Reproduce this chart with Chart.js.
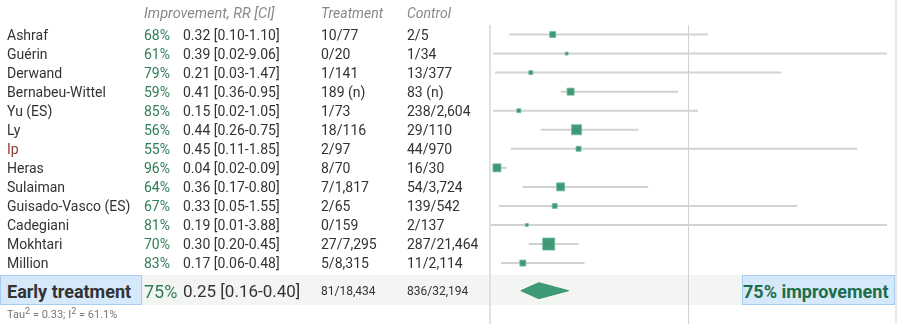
<!DOCTYPE html>
<html>
<head>
<meta charset="utf-8">
<script src="https://cdn.jsdelivr.net/npm/chart.js@4"></script>
<style>
  body { margin: 0; background: #fff; font-family: Roboto, "Noto Sans", sans-serif; }
  #wrap { position: relative; width: 898px; height: 324px; overflow: hidden; }
  #band { position: absolute; left: 0; top: 275px; width: 895px; height: 30px; background: #f2f5f2; z-index: 0; }
  #plot { position: absolute; left: 0; top: 0; z-index: 1; }
  .t { position: absolute; white-space: nowrap; transform: translateY(-50%); z-index: 2; color: #333; font-size: 14px; line-height: 17px; }
  .hdr { color: #888; font-style: italic; }
  .pct { color: #2f7d57; }
  .box { position: absolute; z-index: 2; background: #d6e9fb; border: 1px solid #a9cdee; box-sizing: border-box; }
</style>
</head>
<body>
<div id="wrap">
  <div id="band"></div>
  <canvas id="plot" width="898" height="324"></canvas>
</div>
<script>
const studies = ['Ashraf', 'Guérin', 'Derwand', 'Bernabeu-Wittel', 'Yu (ES)', 'Ly', 'Ip', 'Heras', 'Sulaiman', 'Guisado-Vasco (ES)', 'Cadegiani', 'Mokhtari', 'Million'];
const improvement = [68, 61, 79, 59, 85, 56, 55, 96, 64, 67, 81, 70, 83];
const rr = [0.32, 0.39, 0.21, 0.41, 0.15, 0.44, 0.45, 0.04, 0.36, 0.33, 0.19, 0.30, 0.17];
const ciLow = [0.10, 0.02, 0.03, 0.36, 0.02, 0.26, 0.11, 0.02, 0.17, 0.05, 0.01, 0.20, 0.06];
const ciHigh = [1.10, 9.06, 1.47, 0.95, 1.05, 0.75, 1.85, 0.09, 0.80, 1.55, 3.88, 0.45, 0.48];
const treatment = ['10/77', '0/20', '1/141', '189 (n)', '1/73', '18/116', '2/97', '8/70', '7/1,817', '2/65', '0/159', '27/7,295', '5/8,315'];
const control = ['2/5', '1/34', '13/377', '83 (n)', '238/2,604', '29/110', '44/970', '16/30', '54/3,724', '139/542', '2/137', '287/21,464', '11/2,114'];
// relative study weights (%), estimated from the square sizes
const weights = [6.1, 1.5, 2.7, 8.3, 2.7, 16.9, 4.2, 10.8, 10.8, 4.2, 1.5, 24.3, 6.1];

const summaryLabel = 'Early treatment';
const summaryImprovement = 75;
const summaryRR = 0.25;
const summaryLow = 0.16;
const summaryHigh = 0.40;
const summaryTreatment = '81/18,434';
const summaryControl = '836/32,194';
const heterogeneity = 'Tau<sup>2</sup> = 0.33; I<sup>2</sup> = 61.1%';

const X_MAX = 2.05;     // axis end
const X_CLIP = 2;       // CIs drawn no further than this
const SUMMARY_ROW = 13.45;
const green = 'rgba(47, 145, 105, 0.92)';

const fmt = v => v.toFixed(2);

// CI whiskers, one small line dataset per study
const ciSets = studies.map((s, i) => ({
  type: 'line',
  data: [{ x: ciLow[i], y: i }, { x: Math.min(ciHigh[i], X_CLIP), y: i }],
  borderColor: '#d2d2d2',
  borderWidth: 2,
  pointRadius: 0,
  order: 2
}));

const squares = {
  type: 'scatter',
  data: rr.map((v, i) => ({ x: v, y: i })),
  pointStyle: 'rect',
  pointRadius: weights.map(w => 2.45 * Math.sqrt(w) * Math.SQRT1_2),
  backgroundColor: green,
  borderColor: 'rgba(120, 190, 160, 0.8)',
  borderWidth: 1,
  order: 0
};

const dh = 0.42;
const diamond = {
  type: 'line',
  data: [
    { x: summaryLow, y: SUMMARY_ROW },
    { x: summaryRR, y: SUMMARY_ROW - dh },
    { x: summaryHigh, y: SUMMARY_ROW },
    { x: summaryRR, y: SUMMARY_ROW + dh },
    { x: summaryLow, y: SUMMARY_ROW }
  ],
  borderColor: green,
  backgroundColor: green,
  borderWidth: 1,
  pointRadius: 0,
  tension: 0,
  fill: 'shape',
  order: 1
};

// left border, null line at RR = 1 and the right frame
const guideLines = {
  id: 'guideLines',
  beforeDatasetsDraw(chart) {
    const { ctx, chartArea, scales } = chart;
    ctx.save();
    ctx.strokeStyle = '#e0e0e0';
    ctx.lineWidth = 2;
    const x0 = Math.round(scales.x.getPixelForValue(0)) + 1;
    ctx.beginPath(); ctx.moveTo(x0, chartArea.top); ctx.lineTo(x0, chart.height); ctx.stroke();
    ctx.strokeStyle = '#d0d0d0';
    ctx.lineWidth = 1;
    const x1 = Math.round(scales.x.getPixelForValue(1)) + 0.5;
    ctx.beginPath(); ctx.moveTo(x1, chartArea.top); ctx.lineTo(x1, chart.height); ctx.stroke();
    ctx.strokeStyle = '#e2e2e2';
    ctx.lineWidth = 1.5;
    ctx.beginPath(); ctx.moveTo(chart.width - 2, 0); ctx.lineTo(chart.width - 2, chart.height); ctx.stroke();
    ctx.restore();
  }
};

const chart = new Chart(document.getElementById('plot'), {
  type: 'scatter',
  data: { datasets: [squares, diamond, ...ciSets] },
  options: {
    responsive: false,
    animation: false,
    devicePixelRatio: 1,
    layout: { autoPadding: false, padding: { left: 489, right: 1, top: 25, bottom: 0 } },
    plugins: { legend: { display: false }, tooltip: { enabled: false } },
    scales: {
      x: { type: 'linear', min: 0, max: X_MAX, display: false },
      y: { type: 'linear', min: -0.5, max: 15.2, reverse: true, display: false }
    }
  },
  plugins: [guideLines]
});

// table text, placed on the chart's own rows
const wrap = document.getElementById('wrap');
function addText(html, x, y, cls, extra) {
  const el = document.createElement('div');
  el.className = 't ' + (cls || '');
  el.innerHTML = html;
  el.style.left = x + 'px';
  el.style.top = y + 'px';
  if (extra) Object.assign(el.style, extra);
  wrap.appendChild(el);
  return el;
}

const col = { name: 7, pct: 144, rr: 183, treat: 321, ctrl: 407 };
addText('Improvement, RR [CI]', col.pct, 13, 'hdr', { fontSize: '14.5px' });
addText('Treatment', col.treat, 13, 'hdr');
addText('Control', col.ctrl, 13, 'hdr');

const yScale = chart.scales.y;
studies.forEach((s, i) => {
  const y = yScale.getPixelForValue(i);
  addText(s, col.name, y, '', s === 'Ip' ? { color: '#8a3b36' } : null);
  addText(improvement[i] + '%', col.pct, y, 'pct');
  addText(fmt(rr[i]) + ' [' + fmt(ciLow[i]) + '-' + fmt(ciHigh[i]) + ']', col.rr, y);
  addText(treatment[i], col.treat, y);
  addText(control[i], col.ctrl, y);
});

const ys = yScale.getPixelForValue(SUMMARY_ROW);
const lbox = document.createElement('div');
lbox.className = 'box';
Object.assign(lbox.style, { left: '0px', top: '275px', width: '142px', height: '30px' });
wrap.appendChild(lbox);
addText(summaryLabel, col.name, ys, '', { fontWeight: 'bold', fontSize: '18px', lineHeight: '21px', color: '#333' });
addText(summaryImprovement + '%', col.pct, ys, 'pct', { fontSize: '18px', lineHeight: '21px' });
addText(fmt(summaryRR) + ' [' + fmt(summaryLow) + '-' + fmt(summaryHigh) + ']', col.rr, ys, '', { fontSize: '17px', lineHeight: '21px' });
addText(summaryTreatment, col.treat, ys, '', { fontSize: '12px' });
addText(summaryControl, col.ctrl, ys, '', { fontSize: '12px' });

const rbox = document.createElement('div');
rbox.className = 'box';
Object.assign(rbox.style, { left: '742px', top: '275px', width: '153px', height: '30px' });
wrap.appendChild(rbox);
addText(summaryImprovement + '% improvement', 743, ys, 'pct', { fontWeight: 'bold', fontSize: '18px', lineHeight: '21px', color: '#1d6e46' });

addText(heterogeneity, col.name, 313, '', { fontSize: '11px', lineHeight: '13px', color: '#777' });
</script>
</body>
</html>
